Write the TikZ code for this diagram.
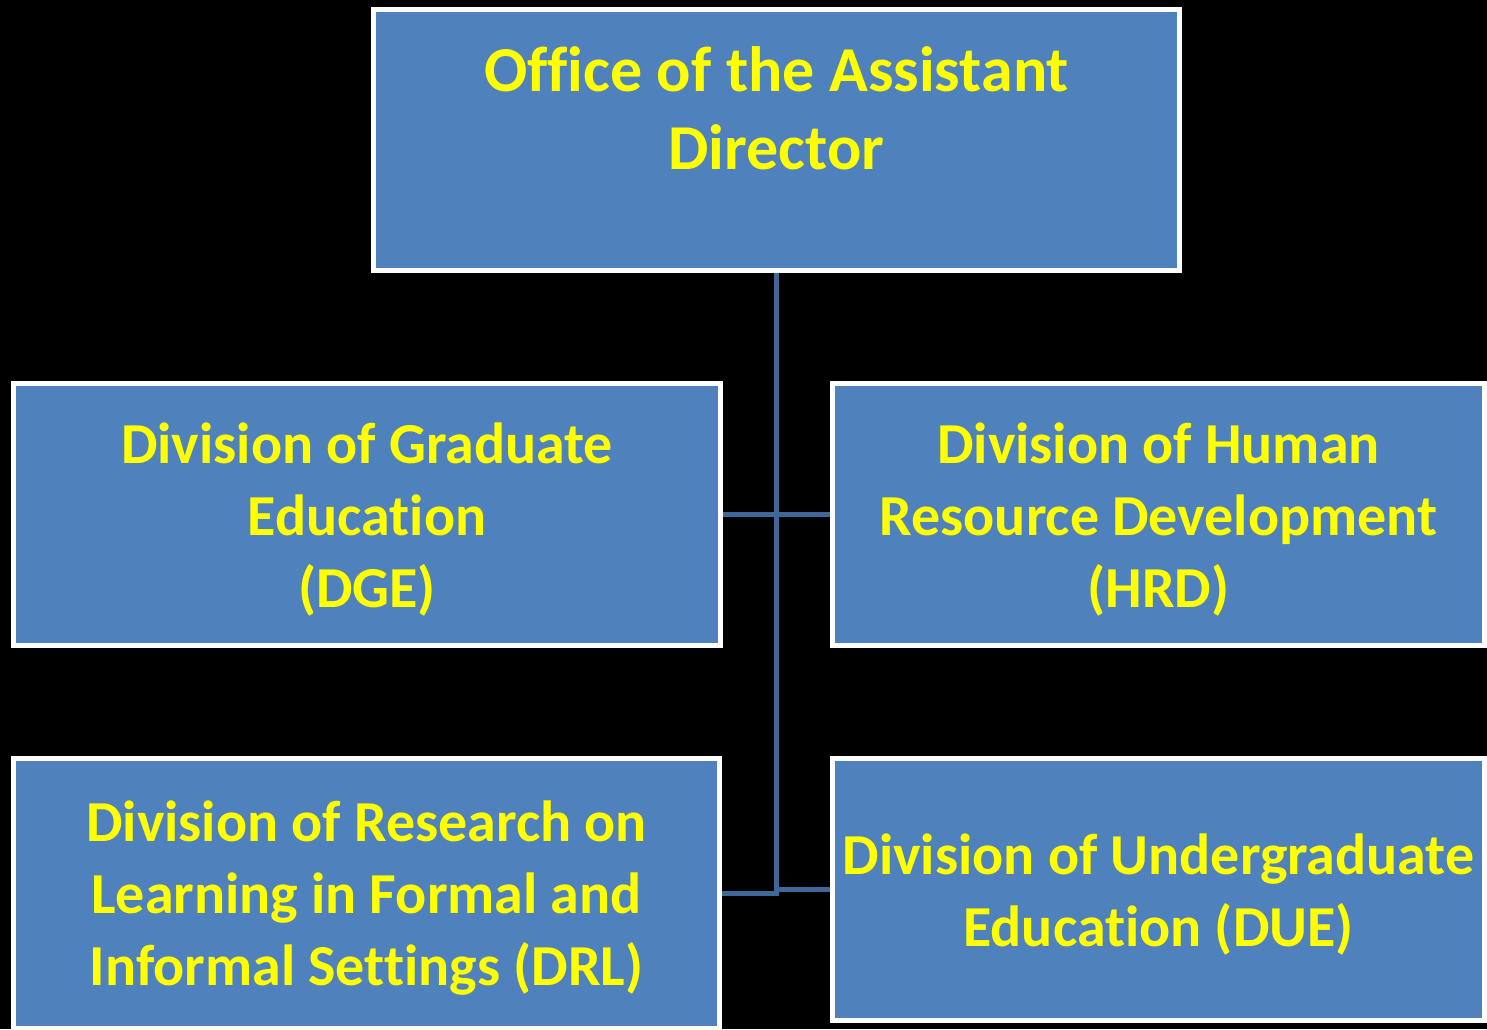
\documentclass[tikz,border=0pt]{standalone}
\usepackage{fontspec}
\setmainfont{Carlito}[Ligatures=NoCommon]
\definecolor{boxblue}{HTML}{4F81BD}
\definecolor{linkblue}{HTML}{3F6898}
\definecolor{txtyellow}{HTML}{FFFF00}
\newcommand{\lift}{\rule{0pt}{25pt}}
\tikzset{
  box/.style={draw=white,line width=2.5pt,fill=boxblue,text=txtyellow,
    font=\bfseries\fontsize{29}{36}\selectfont,align=center,inner sep=0pt},
  link/.style={draw=linkblue,line width=2.5pt}
}
\begin{document}
\begin{tikzpicture}[x=0.5pt,y=-0.5pt]
\fill[black] (0,0) rectangle (1487,1029);
\useasboundingbox (0,0) rectangle (1487,1029);

%top box
\node[box,minimum width=403pt,minimum height=130.5pt,font=\bfseries\fontsize{32}{39}\selectfont] (oad) at (776.5,140)
  {\rule{0pt}{26pt}Office of the Assistant\\Director\\[-15pt]\strut};

%divisions
\node[box,minimum width=353.5pt,minimum height=131pt] (dge) at (367,514.5)
  {\lift Division of Graduate\\Education\\(DGE)};
\node[box,minimum width=326pt,minimum height=131pt] (hrd) at (1158.5,514.5)
  {\lift Division of Human\\Resource Development\\(HRD)};
\node[box,minimum width=353pt,minimum height=135pt] (drl) at (366.5,893.5)
  {\lift Division of Research on\\Learning in Formal and\\Informal Settings (DRL)};
\node[box,minimum width=326pt,minimum height=131pt] (due) at (1158.5,889.5)
  {\lift Division of Undergraduate\\Education (DUE)};

%connectors
\draw[link] (oad.south) -- (oad.south |- drl.east) -- (drl.east);
\draw[link] (dge.east) -- (hrd.west);
\draw[link] (oad.south |- due.west) -- (due.west);
\end{tikzpicture}
\end{document}
